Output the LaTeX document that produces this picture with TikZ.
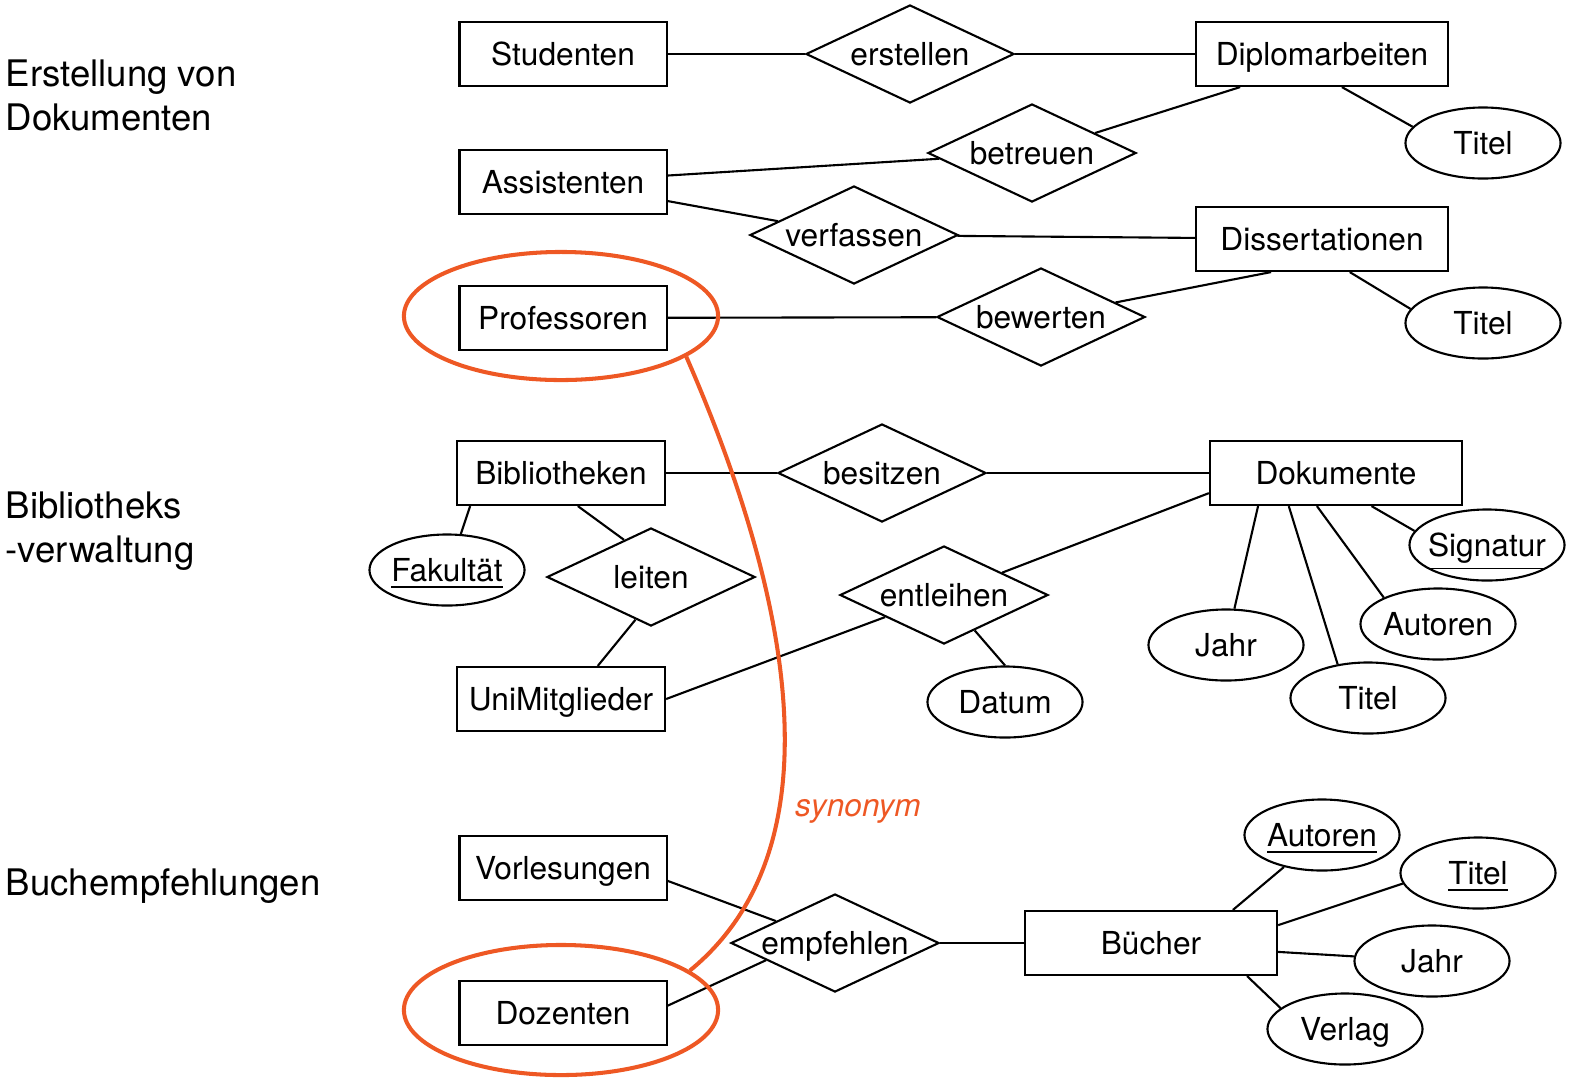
\documentclass[tikz,border=0pt]{standalone}
\usepackage{fontspec}
\setmainfont{TeX Gyre Heros}
\definecolor{synOrange}{RGB}{238,88,36}
\usetikzlibrary{shapes.geometric}

\begin{document}
\begin{tikzpicture}[
  x=0.01cm, y=-0.01cm,
  entity/.style={draw, line width=0.6pt, minimum width=2.07cm, minimum height=0.64cm,
                 inner sep=0pt, text height=6.5pt, text depth=0pt, font=\fontsize{9}{11}\selectfont},
  wide/.style={entity, minimum width=2.52cm},
  rel/.style={draw, diamond, shape aspect=2.1, line width=0.6pt, minimum width=2.08cm,
              minimum height=0.98cm, inner sep=0pt, text height=6.5pt, text depth=0pt,
              font=\fontsize{9}{11}\selectfont},
  attr/.style={draw, ellipse, line width=0.6pt, minimum width=1.55cm, minimum height=0.71cm,
               inner xsep=-1.5pt, inner ysep=0pt, text height=6.5pt, text depth=0pt,
               font=\fontsize{9}{11}\selectfont},
  group/.style={anchor=north west, align=left, inner sep=0pt, font=\fontsize{10.4}{12.6}\selectfont},
  syn/.style={draw=synOrange, ellipse, line width=1.15pt, inner sep=0pt,
              minimum width=3.14cm, minimum height=1.28cm},
  conn/.style={line width=0.6pt}
]
  \useasboundingbox (0,0) rectangle (1573,1081);

  % group labels
  \node[group] (grpDok) at (5,59)  {Erstellung von\\Dokumenten};
  \node[group] (grpBib) at (5,491) {Bibliotheks\\-verwaltung};
  \node[group] (grpBuch) at (5,868) {Buchempfehlungen};

  % Erstellung von Dokumenten
  \node[entity] (stu)  at (563,54)   {Studenten};
  \node[wide]   (dip)  at (1322,54)  {Diplomarbeiten};
  \node[entity] (ass)  at (563,182)  {Assistenten};
  \node[wide]   (diss) at (1322,239) {Dissertationen};
  \node[entity] (prof) at (563,318)  {Professoren};
  \node[rel] (erst) at (910,54)   {erstellen};
  \node[rel] (betr) at (1032,153) {betreuen};
  \node[rel] (verf) at (854,235)  {verfassen};
  \node[rel] (bew)  at (1041,317) {bewerten};
  \node[attr] (tiDip)  at (1483,143) {Titel};
  \node[attr] (tiDiss) at (1483,323) {Titel};

  \draw[conn] (stu) -- (erst);
  \draw[conn] (erst) -- (dip);
  \draw[conn] (ass) -- (betr);
  \draw[conn] (betr) -- (dip.202);
  \draw[conn] (dip.-59) -- (tiDip.167);
  \draw[conn] (ass) -- (verf);
  \draw[conn] (verf) -- (diss);
  \draw[conn] (diss.-50) -- (tiDiss.169);
  \draw[conn] (prof) -- (bew);
  \draw[conn] (bew) -- (diss.213);

  % Bibliotheksverwaltung
  \node[entity, minimum width=2.08cm] (bib) at (561,473) {Bibliotheken};
  \node[entity, minimum width=2.08cm] (uni) at (561,699) {UniMitglieder};
  \node[wide] (dok) at (1336,473) {Dokumente};
  \node[rel] (bes)  at (882,473) {besitzen};
  \node[rel] (lei)  at (651,577) {leiten};
  \node[rel] (entl) at (944,595) {entleihen};
  \node[attr] (fak)    at (447,570)  {\underline{Fakultät}};
  \node[attr] (dat)    at (1005,702) {Datum};
  \node[attr] (sig)    at (1487,545) {\underline{Signatur}};
  \node[attr] (autDok) at (1438,624) {Autoren};
  \node[attr] (jaDok)  at (1226,645) {Jahr};
  \node[attr] (tiDok)  at (1368,698) {Titel};

  \draw[conn] (bib) -- (bes);
  \draw[conn] (bes) -- (dok);
  \draw[conn] (bib.200) -- (fak.69);
  \draw[conn] (bib.-63) -- (lei.126);
  \draw[conn] (lei.250) -- (uni.42);
  \draw[conn] (uni.east) -- (entl);
  \draw[conn] (entl) -- (dok.189);
  \draw[conn] (entl) -- (dat.north);
  \draw[conn] (dok.203) -- (jaDok);
  \draw[conn] (dok.215) -- (tiDok.132);
  \draw[conn] (dok.240) -- (autDok.154);
  \draw[conn] (dok.-43) -- (sig.169);

  % Buchempfehlungen
  \node[entity] (vor) at (563,868)  {Vorlesungen};
  \node[entity] (doz) at (563,1013) {Dozenten};
  \node[wide]   (bue) at (1151,943) {Bücher};
  \node[rel] (empf) at (835,943) {empfehlen};
  \node[attr] (autBue) at (1322,835)  {\underline{Autoren}};
  \node[attr] (tiBue)  at (1478,873)  {\underline{Titel}};
  \node[attr] (jaBue)  at (1432,961)  {Jahr};
  \node[attr] (verl)   at (1345,1029) {Verlag};

  \draw[conn] (vor.-7) -- (empf);
  \draw[conn] (doz.4) -- (empf.194);
  \draw[conn] (empf) -- (bue);
  \draw[conn] (bue.22) -- (autBue);
  \draw[conn] (bue.8) -- (tiBue.188);
  \draw[conn] (bue.-4) -- (jaBue);
  \draw[conn] (bue.-19) -- (verl.162);

  % synonym marking
  \node[syn] (profSyn) at (561,316) {};
  \node[syn, minimum height=1.30cm] (dozSyn) at (561,1010) {};
  \draw[synOrange, line width=1.15pt] (profSyn.-18) .. controls (762,530) and (862,830) .. (dozSyn.17);
  \node[text=synOrange, font=\fontsize{9}{11}\selectfont\itshape] (synLbl) at (858,811) {synonym};
\end{tikzpicture}
\end{document}
